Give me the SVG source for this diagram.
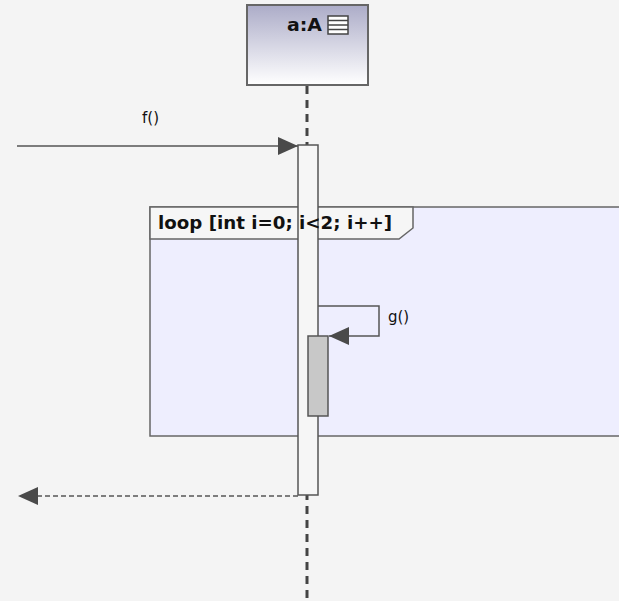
<svg xmlns="http://www.w3.org/2000/svg" width="619" height="601" viewBox="0 0 619 601">
<style>
.t{font-family:"DejaVu Sans","Liberation Sans",sans-serif;fill:#111}
.b{font-weight:bold}
.ln{stroke:#555;stroke-width:1.5;fill:none}
.life{stroke:#444;stroke-width:3;stroke-dasharray:8,6;fill:none}
</style>
<defs>
<linearGradient id="hg" x1="0" y1="0" x2="0" y2="1">
<stop offset="0" stop-color="#acacc8"/>
<stop offset="1" stop-color="#ffffff"/>
</linearGradient>
<marker id="ah" markerWidth="20" markerHeight="20" refX="20" refY="10" orient="auto" markerUnits="userSpaceOnUse">
<path d="M0,1 L20,10 L0,19 Z" fill="#4a4a4a"/>
</marker>
</defs>
<rect width="619" height="601" fill="#f4f4f4"/>
<g id="loop">
<rect x="150" y="207" width="475" height="229" fill="#eeeefe" stroke="#666" stroke-width="1.5"/>
<path d="M150,207 H413 V228 L399,239 H150 Z" fill="#f6f6f6" stroke="#666" stroke-width="1.5"/>
</g>
<g id="lifeline-a">
<rect x="247" y="5" width="121" height="80" fill="url(#hg)" stroke="#666" stroke-width="2"/>
<text class="t b" x="287" y="31" font-size="17" textLength="35" lengthAdjust="spacingAndGlyphs">a:A</text>
<g stroke="#444" stroke-width="1.5" fill="#fff">
<rect x="328" y="16" width="20" height="18"/>
<line x1="328" y1="20.5" x2="348" y2="20.5"/>
<line x1="328" y1="25" x2="348" y2="25"/>
<line x1="328" y1="29.5" x2="348" y2="29.5"/>
</g>
<line class="life" x1="307" y1="86" x2="307" y2="601"/>
<rect x="298" y="145" width="20" height="350" fill="#f6f6f6" stroke="#555" stroke-width="1.5"/>
<rect x="308" y="336" width="20" height="80" fill="#c8c8c8" stroke="#555" stroke-width="1.5"/>
</g>
<g id="loop-label">
<text class="t b" x="158" y="229" font-size="17" textLength="234" lengthAdjust="spacingAndGlyphs">loop [int i=0; i&lt;2; i++]</text>
</g>
<g id="connectors">
<line class="ln" x1="17" y1="146" x2="298" y2="146" marker-end="url(#ah)"/>
<text class="t" x="142" y="123" font-size="15">f()</text>
<polyline class="ln" points="318,306 379,306 379,336 329,336" marker-end="url(#ah)"/>
<text class="t" x="388" y="322" font-size="15">g()</text>
<line class="ln" x1="298" y1="496" x2="18" y2="496" stroke-dasharray="5,3" marker-end="url(#ah)"/>
</g>
</svg>
